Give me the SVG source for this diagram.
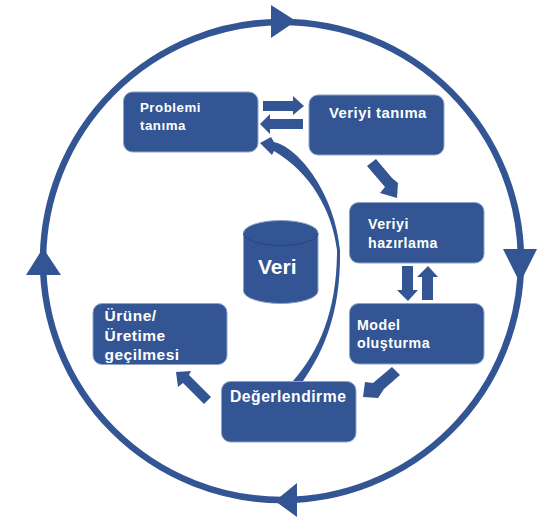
<svg xmlns="http://www.w3.org/2000/svg" width="556" height="528" viewBox="0 0 556 528">
<style>
.box{fill:#335593;stroke:#8ea3c8;stroke-width:1}
.ar{fill:#335593}
.ring{fill:none;stroke:#335593;stroke-width:6.5}
text{font-family:"Liberation Sans",Arial,sans-serif;font-weight:bold;fill:#fff;font-size:13.5px;letter-spacing:.5px}
</style>
<rect width="556" height="528" fill="#fff"/>
<g id="connectors">
<circle class="ring" cx="282" cy="261" r="239"/>
<polygon class="ar" points="271,5 271,38 296,21"/>
<polygon class="ar" points="503,249 537,249 520,283"/>
<polygon class="ar" points="297,483 297,517 275,501"/>
<polygon class="ar" points="26,275 61,275 43,248"/>
<polygon class="ar" points="263,101 293,101 293,96 304,106 293,115 293,111 263,111"/>
<polygon class="ar" points="303,119 303,129 270,129 270,134 260,124 270,114 270,119"/>
<polygon class="ar" points="376,159 367,166 385,187 380,193 397,198 398,183 392,178"/>
<polygon class="ar" points="402,266 413,266 413,290 418,290 408,301 397,290 402,290"/>
<polygon class="ar" points="422,300 433,300 433,277 438,277 428,266 417,277 422,277"/>
<polygon class="ar" points="392,367 400,375 384,389 378,398 363,397 365,382 373,383"/>
<polygon class="ar" points="176,372 191,371 189,375 211,397 204,404 183,383 178,387"/>
<path class="ar" d="M260,143 L271,137 L274,142 C300,148 335,195 340,250 C341,310 325,350 303,381 L293,381 C320,350 337,310 337,250 C332,210 310,172 274,151 L272,155 Z"/>
</g>
<g id="n1"><rect class="box" x="123.500" y="92" width="134.500" height="60" rx="9"/><text x="140" y="112" style="font-size:13.300px">Problemi</text><text x="140" y="130" style="font-size:13.300px">tanıma</text></g>
<g id="n2"><rect class="box" x="309" y="95" width="135" height="60" rx="9"/><text x="329" y="118" style="font-size:14.800px">Veriyi tanıma</text></g>
<g id="n3"><rect class="box" x="349.500" y="202.500" width="134.500" height="60.500" rx="9"/><text x="368" y="229" style="font-size:14.200px">Veriyi</text><text x="368" y="248" style="font-size:14.200px">hazırlama</text></g>
<g id="n4"><rect class="box" x="349.500" y="303.500" width="134.500" height="60.500" rx="9"/><text x="357" y="330" style="font-size:14.200px">Model</text><text x="357" y="348" style="font-size:14.200px">oluşturma</text></g>
<g id="n5"><rect class="box" x="221.500" y="381.500" width="134.500" height="60.500" rx="9"/><text x="230" y="402" style="font-size:15.700px">Değerlendirme</text></g>
<g id="n6"><rect class="box" x="93" y="303.500" width="134" height="61" rx="9"/><text x="104.500" y="321" style="font-size:15.500px">Ürüne/</text><text x="104.500" y="341" style="font-size:15.500px">Üretime</text><text x="104.500" y="360" style="font-size:15.500px">geçilmesi</text></g>
<g id="n7">
<path class="box" d="M243.500,233 A37.250,12.500 0 0 1 318,233 V291 A37.250,12.500 0 0 1 243.500,291 Z"/>
<path d="M243.500,233 A37.250,12.500 0 0 0 318,233" fill="none" stroke="#2a4678" stroke-width="1"/>
<text x="258" y="274" style="font-size:21px;letter-spacing:0">Veri</text>
</g>
</svg>
